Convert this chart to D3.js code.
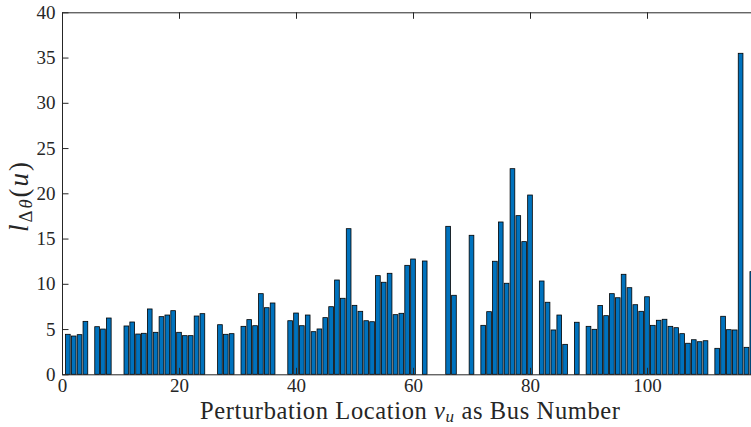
<!DOCTYPE html>
<html>
<head>
<meta charset="utf-8">
<script src="https://cdn.jsdelivr.net/npm/d3@7"></script>
<style>
  html, body { margin: 0; padding: 0; background: #fff; }
  svg { display: block; }
  svg text, svg tspan { font-family: "Liberation Serif" !important; }
</style>
</head>
<body>
<svg id="chart" width="751" height="427" font-family="Liberation Serif"></svg>
<script>
// Bus numbers 1..118 and the sensitivity value at each bus (0 = no bar)
const buses = d3.range(1, 119);
const values = [
  4.42, 4.23, 4.38, 5.85, 0, 5.26, 5.00, 6.22, 0, 0,
  5.34, 5.78, 4.45, 4.53, 7.22, 4.64, 6.37, 6.55, 7.03, 4.64,
  4.27, 4.27, 6.44, 6.70, 0, 0, 5.48, 4.42, 4.49, 0,
  5.30, 6.04, 5.37, 8.91, 7.36, 7.88, 0, 0, 5.92, 6.77,
  5.37, 6.55, 4.71, 5.01, 6.26, 7.47, 10.42, 8.40, 16.09, 7.62,
  6.96, 5.92, 5.81, 10.90, 10.17, 11.16, 6.59, 6.74, 12.04, 12.74,
  0, 12.52, 0, 0, 0, 16.35, 8.73, 0, 0, 15.36,
  0, 5.41, 6.92, 12.49, 16.83, 10.06, 22.72, 17.53, 14.66, 19.81,
  0, 10.31, 7.96, 4.90, 6.55, 3.31, 0, 5.75, 0, 5.30,
  4.97, 7.60, 6.48, 8.91, 8.46, 11.05, 9.57, 7.69, 6.96, 8.57,
  5.41, 5.97, 6.08, 5.30, 5.15, 4.49, 3.43, 3.82, 3.60, 3.71,
  0, 2.87, 6.41, 4.93, 4.90, 35.47, 2.98, 11.34
];
const xTicks = [0, 20, 40, 60, 80, 100];
const yTicks = [0, 5, 10, 15, 20, 25, 30, 35, 40];

const FONT = "Liberation Serif";
const svg = d3.select("#chart");
const plotLeft = 62, plotTop = 12.3, plotBottom = 374.3, unit = 5.85;
const x = d3.scaleLinear().domain([0, 119]).range([plotLeft, plotLeft + 119 * unit]);
const y = d3.scaleLinear().domain([0, 40]).range([plotBottom, plotTop]);
const axisColor = "#262626";
const barW = unit * 0.8;

// bars
svg.append("g")
  .selectAll("rect")
  .data(buses.map((b, i) => ({ b, v: values[i] })).filter(d => d.v > 0))
  .join("rect")
  .attr("x", d => x(d.b) - barW / 2)
  .attr("y", d => y(d.v))
  .attr("width", barW)
  .attr("height", d => y(0) - y(d.v))
  .attr("fill", "#0072BD")
  .attr("stroke", "#000")
  .attr("stroke-width", 0.8);

// box-style axes with inward ticks
const tickLen = 6.5;
const xAxisB = d3.axisBottom(x).tickValues(xTicks).tickSizeInner(-tickLen).tickSizeOuter(0).tickPadding(4.5);
const xAxisT = d3.axisTop(x).tickValues(xTicks).tickSizeInner(-tickLen).tickSizeOuter(0).tickFormat("");
const yAxisL = d3.axisLeft(y).tickValues(yTicks).tickSizeInner(-tickLen).tickSizeOuter(0).tickPadding(6.5);

function styleAxis(g) {
  g.attr("font-family", FONT).attr("font-size", 19);
  g.select(".domain").attr("stroke", axisColor).attr("stroke-width", 1);
  g.selectAll(".tick line").attr("stroke", axisColor).attr("stroke-width", 1);
  g.selectAll(".tick text")
    .attr("fill", axisColor)
    .attr("font-family", FONT)
    .attr("font-size", 19);
}

svg.append("g").attr("transform", `translate(0,${plotBottom})`).call(xAxisB).call(styleAxis);
svg.append("g").attr("transform", `translate(0,${plotTop})`).call(xAxisT).call(styleAxis);
svg.append("g").attr("transform", `translate(${plotLeft},0)`).call(yAxisL).call(styleAxis);

// x label
const xl = svg.append("text")
  .attr("x", 410).attr("y", 419)
  .attr("text-anchor", "middle")
  .attr("fill", axisColor)
  .attr("font-family", FONT)
  .attr("font-size", 24.5)
  .attr("textLength", 420)
  .attr("lengthAdjust", "spacing");
xl.append("tspan").text("Perturbation Location ");
xl.append("tspan").attr("font-style", "italic").text("v");
xl.append("tspan").attr("font-style", "italic").attr("font-size", 17).attr("dy", 3).text("u");
xl.append("tspan").attr("dy", -3).text(" as Bus Number");

// y label
const yl = svg.append("text")
  .attr("transform", "translate(28,197) rotate(-90)")
  .attr("text-anchor", "middle")
  .attr("fill", axisColor)
  .attr("font-family", FONT)
  .attr("font-size", 27)
  .attr("textLength", 70)
  .attr("lengthAdjust", "spacing");
yl.append("tspan").attr("font-style", "italic").text("l");
yl.append("tspan").attr("font-size", 18.5).attr("dy", 4).text("Δ");
yl.append("tspan").attr("font-size", 18.5).attr("font-style", "italic").text("θ");
yl.append("tspan").attr("dy", -4).text("(");
yl.append("tspan").attr("font-style", "italic").text("u");
yl.append("tspan").text(")");
</script>
</body>
</html>
